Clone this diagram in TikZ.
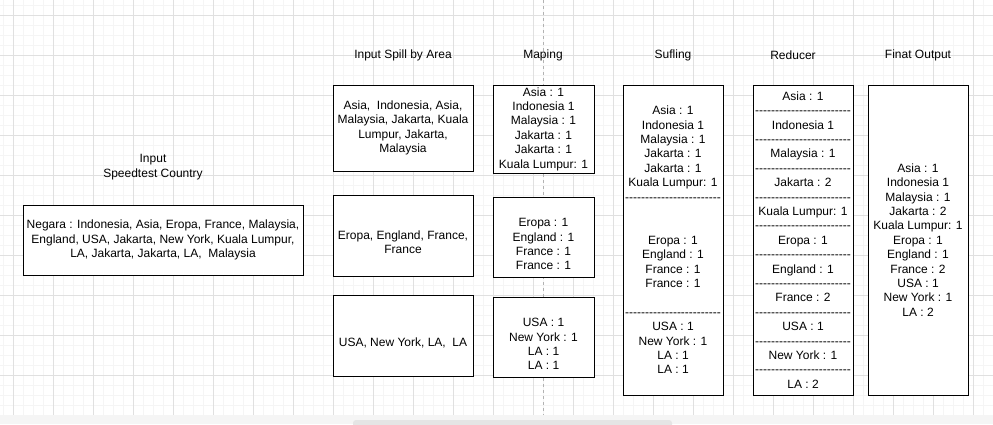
\documentclass[tikz,border=0pt]{standalone}
\usepackage{fontspec}
\setmainfont{Liberation Sans}
\usetikzlibrary{positioning}

% ligne de tirets (sans ligature)
\newcommand{\tirets}{\foreach \k in {1,...,24}{-\kern0pt}}

\begin{document}
\begin{tikzpicture}[
                x=1pt, y=-1pt,
                every node/.style={font=\fontsize{12}{14.4}\selectfont},
                boite/.style={draw, line width=1pt, rectangle, fill=white, align=center, inner sep=0pt},
                titre/.style={align=center, inner sep=0pt},
                grillefine/.style={black!4, line width=0.8pt},
                grille/.style={black!12, line width=0.8pt}
            ]

            % Fond : grille
            \useasboundingbox (0,0) rectangle (993,424);
            \fill[white] (0,0) rectangle (993,424);
            \foreach \x in {3,13,...,993} \draw[grillefine] (\x,0) -- (\x,415);
            \foreach \y in {5,15,...,405} \draw[grillefine] (0,\y) -- (993,\y);
            \foreach \x in {13,53,...,973} \draw[grille] (\x,0) -- (\x,415);
            \foreach \y in {15,55,...,375} \draw[grille] (0,\y) -- (993,\y);
            \draw[black!30, line width=0.8pt, dash pattern=on 3pt off 3pt] (543,0) -- (543,415);
            \fill[black!4] (0,415) rectangle (993,424);
            \fill[black!10, rounded corners=3pt] (353,420) rectangle (672,428);

            % Titres
            \node[titre] (tInput) at (153,167) {Input\\Speedtest Country};
            \node[titre] (tSpill) at (403,55) {Input Spill by Area};
            \node[titre] (tMap) at (543,55) {Maping};
            \node[titre] (tSuf) at (673,55) {Sufling};
            \node[titre] (tRed) at (793,55) {Reducer};
            \node[titre] (tFin) at (918,55) {Finat Output};

            % Entree
            \node[boite, minimum width=280pt, minimum height=70pt] (input) at (163,240)
                {Negara : Indonesia, Asia, Eropa, France, Malaysia,\\
                 England, USA, Jakarta, New York, Kuala Lumpur,\\
                 LA, Jakarta, Jakarta, LA, \ Malaysia};

            % Decoupage par zone
            \node[boite, minimum width=140pt, minimum height=86pt] (spill1) at (403,128)
                {Asia, \ Indonesia, Asia,\\ Malaysia, Jakarta, Kuala\\ Lumpur, Jakarta,\\ Malaysia};
            \node[boite, minimum width=140pt, minimum height=81pt] (spill2) at (403,235.5)
                {\vphantom{Ey}\\ Eropa, England, France,\\ France};
            \node[boite, minimum width=140pt, minimum height=81pt] (spill3) at (403,335.5)
                {\vphantom{Ey}\\ USA, New York, LA, \ LA};

            % Maping
            \node[boite, minimum width=101pt, minimum height=88pt] (map1) at (543.5,129)
                {Asia : 1\\ Indonesia 1\\ Malaysia : 1\\ Jakarta : 1\\ Jakarta : 1\\ Kuala Lumpur: 1};
            \node[boite, minimum width=101pt, minimum height=80pt] (map2) at (543.5,237)
                {\vphantom{Ey}\\ Eropa : 1\\ England : 1\\ France : 1\\ France : 1};
            \node[boite, minimum width=101pt, minimum height=80pt] (map3) at (543.5,337)
                {\vphantom{Ey}\\ USA : 1\\ New York : 1\\ LA : 1\\ LA : 1};

            % Sufling
            \node[boite, minimum width=100pt, minimum height=310pt] (suf) at (673,240)
                {Asia : 1\\ Indonesia 1\\ Malaysia : 1\\ Jakarta : 1\\ Jakarta : 1\\ Kuala Lumpur: 1\\
                 \tirets\\ \mbox{}\\ \mbox{}\\
                 Eropa : 1\\ England : 1\\ France : 1\\ France : 1\\ \mbox{}\\
                 \tirets\\
                 USA : 1\\ New York : 1\\ LA : 1\\ LA : 1};

            % Reducer
            \node[boite, minimum width=100pt, minimum height=310pt] (red) at (803,240)
                {Asia : 1\\ \tirets\\ Indonesia 1\\ \tirets\\ Malaysia : 1\\ \tirets\\
                 Jakarta : 2\\ \tirets\\ Kuala Lumpur: 1\\ \tirets\\ Eropa : 1\\ \tirets\\
                 England : 1\\ \tirets\\ France : 2\\ \tirets\\ USA : 1\\ \tirets\\
                 New York : 1\\ \tirets\\ LA : 2};

            % Sortie finale
            \node[boite, minimum width=100pt, minimum height=310pt] (fin) at (918,240)
                {Asia : 1\\ Indonesia 1\\ Malaysia : 1\\ Jakarta : 2\\ Kuala Lumpur: 1\\ Eropa : 1\\
                 England : 1\\ France : 2\\ USA : 1\\ New York : 1\\ LA : 2};
        \end{tikzpicture}
\end{document}
